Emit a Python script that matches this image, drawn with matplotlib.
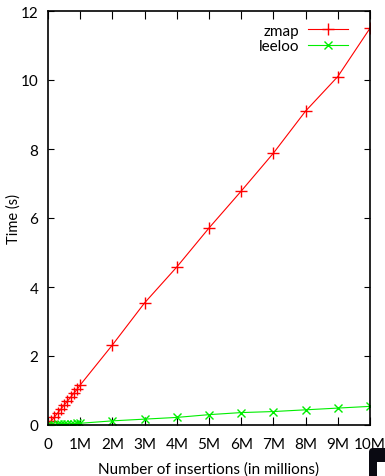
import matplotlib
matplotlib.use("Agg")
import matplotlib.pyplot as plt
from matplotlib.patches import Rectangle, FancyBboxPatch

plt.rcParams['font.family'] = ['Lato', 'DejaVu Sans']

# insertions in millions
zmap_x = [0, 0.1, 0.2, 0.3, 0.4, 0.5, 0.6, 0.7, 0.8, 0.9, 1, 2, 3, 4, 5, 6, 7, 8, 9, 10]
zmap_t = [0.0, 0.12, 0.23, 0.35, 0.46, 0.58, 0.69, 0.80, 0.92, 1.03, 1.16,
          2.32, 3.54, 4.58, 5.71, 6.78, 7.88, 9.1, 10.1, 11.5]
leeloo_x = [0, 0.1, 0.2, 0.3, 0.4, 0.5, 0.6, 0.7, 0.8, 0.9, 1, 2, 3, 4, 5, 6, 7, 8, 9, 10]
leeloo_t = [0.0, 0.005, 0.01, 0.015, 0.02, 0.025, 0.03, 0.035, 0.04, 0.045, 0.05,
            0.12, 0.17, 0.22, 0.30, 0.36, 0.39, 0.44, 0.49, 0.54]
xticks = [0, 1, 2, 3, 4, 5, 6, 7, 8, 9, 10]
xlabels = ['0', '1M', '2M', '3M', '4M', '5M', '6M', '7M', '8M', '9M', '10M']
yticks = [0, 2, 4, 6, 8, 10, 12]

red = '#ff0000'
green = '#00ee00'

fig = plt.figure(figsize=(3.85, 4.77), dpi=100)
ax = fig.add_axes([48/385, 51/477, 322/385, 414/477])

ax.plot(zmap_x, zmap_t, color=red, lw=0.8, marker='+', ms=9, mew=1.0,
        mec=red, mfc=red, label='zmap')
ax.plot(leeloo_x, leeloo_t, color=green, lw=0.8, marker='x', ms=6, mew=1.0,
        mec=green, mfc=green, label='leeloo')

ax.set_xlim(0, 10)
ax.set_ylim(0, 12)
ax.set_xticks(xticks)
ax.set_xticklabels(xlabels)
ax.set_yticks(yticks)
ax.tick_params(direction='in', top=True, right=True, labelsize=11, width=0.8)
ax.tick_params(axis='x', length=6, pad=9)
ax.tick_params(axis='y', length=4, pad=7)
for s in ax.spines.values():
    s.set_linewidth(1.2)

ax.set_xlabel('Number of insertions (in millions)', fontsize=11, labelpad=7)
ax.set_ylabel('Time (s)', fontsize=10.5)
ax.yaxis.set_label_coords(-0.085, 0.5)

ax.legend(loc='upper right', frameon=False, fontsize=11, markerfirst=False,
          handlelength=2.6, borderaxespad=0.3, labelspacing=0.1, handletextpad=0.6,
          bbox_to_anchor=(0.965, 0.995))

# black corner shape at the bottom right
fig.patches.append(FancyBboxPatch((369, -20), 40, 48, boxstyle='round,pad=0,rounding_size=4',
                                  transform=None, facecolor='#0a0a12', edgecolor='none'))
fig.patches.append(Rectangle((377, -20), 30, 34, transform=None,
                             facecolor='white', edgecolor='none'))

fig.savefig('out.png', dpi=100)
